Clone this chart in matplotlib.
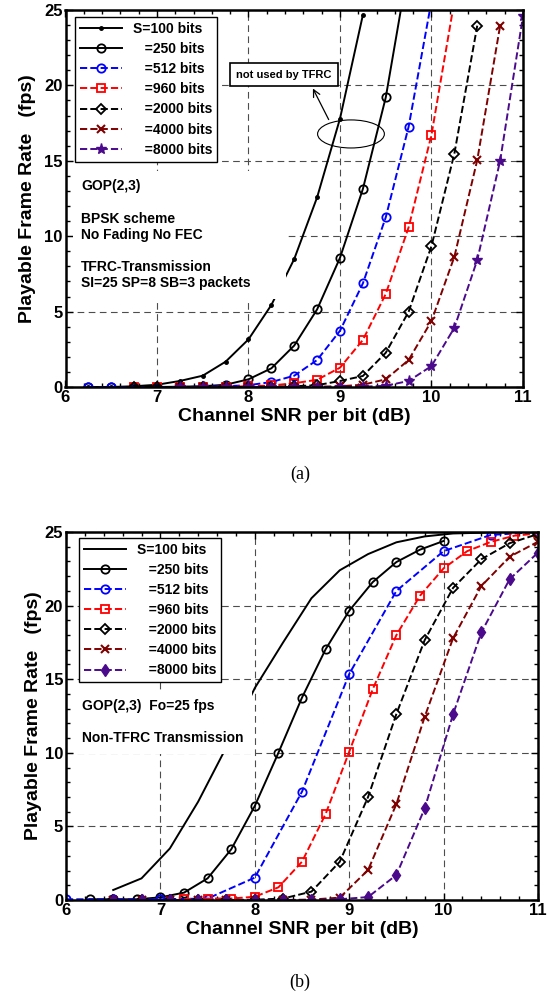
import matplotlib
matplotlib.use("Agg")
import matplotlib.pyplot as plt
from matplotlib.patches import Ellipse
from matplotlib.ticker import MultipleLocator

plt.rcParams['font.family'] = ['Liberation Sans', 'DejaVu Sans']
plt.rcParams['font.weight'] = 'bold'

# ---- (a) TFRC transmission ----
a_x100 = [6.25, 6.5, 6.75, 7.0, 7.25, 7.5, 7.75, 8.0, 8.25, 8.5, 8.75, 9.0, 9.25]
a_y100 = [0, 0, 0.05, 0.15, 0.4, 0.75, 1.68, 3.16, 5.44, 8.49, 12.58, 17.8, 24.67]
a_x250 = [6.25, 6.5, 6.75, 7.0, 7.25, 7.5, 7.75, 8.0, 8.25, 8.5, 8.75, 9.0, 9.25, 9.5, 9.75]
a_y250 = [0, 0, 0, 0, 0.02, 0.05, 0.15, 0.51, 1.24, 2.75, 5.15, 8.57, 13.13, 19.2, 28.0]
a_x512 = [6.25, 6.5, 6.75, 7.0, 7.25, 7.5, 7.75, 8.0, 8.25, 8.5, 8.75, 9.0, 9.25, 9.5, 9.75, 10.0]
a_y512 = [0, 0, 0, 0, 0, 0.02, 0.05, 0.12, 0.33, 0.75, 1.79, 3.73, 6.87, 11.25, 17.26, 25.6]
a_x960 = [6.75, 7.0, 7.25, 7.5, 7.75, 8.0, 8.25, 8.5, 8.75, 9.0, 9.25, 9.5, 9.75, 10.0, 10.25]
a_y960 = [0, 0, 0, 0, 0.02, 0.05, 0.1, 0.25, 0.48, 1.28, 3.12, 6.17, 10.59, 16.73, 25.6]
a_x2000 = [6.75, 7.0, 7.25, 7.5, 7.75, 8.0, 8.25, 8.5, 8.75, 9.0, 9.25, 9.5, 9.75, 10.0, 10.25, 10.5]
a_y2000 = [0, 0, 0, 0, 0, 0, 0.02, 0.05, 0.12, 0.4, 0.73, 2.27, 4.99, 9.35, 15.48, 23.96]
a_x4000 = [7.25, 7.5, 7.75, 8.0, 8.25, 8.5, 8.75, 9.0, 9.25, 9.5, 9.75, 10.0, 10.25, 10.5, 10.75]
a_y4000 = [0, 0, 0, 0, 0, 0, 0.02, 0.05, 0.15, 0.51, 1.79, 4.38, 8.64, 15.05, 23.96]
a_x8000 = [7.25, 7.5, 7.75, 8.0, 8.25, 8.5, 8.75, 9.0, 9.25, 9.5, 9.75, 10.0, 10.25, 10.5, 10.75, 11.0]
a_y8000 = [0, 0, 0, 0, 0, 0, 0, 0.01, 0.02, 0.08, 0.4, 1.39, 3.93, 8.42, 15.0, 24.6]

# ---- (b) non-TFRC transmission ----
b_x100 = [6.5, 6.8, 7.1, 7.4, 7.7, 8.0, 8.3, 8.6, 8.9, 9.2, 9.5, 9.8, 10.1, 10.4, 10.7, 11.0]
b_y100 = [0.68, 1.47, 3.5, 6.68, 10.4, 14.4, 17.5, 20.5, 22.4, 23.5, 24.3, 24.7, 24.9, 24.95, 25, 25]
b_x250 = [6.25, 6.5, 6.75, 7.0, 7.25, 7.5, 7.75, 8.0, 8.25, 8.5, 8.75, 9.0, 9.25, 9.5, 9.75, 10.0]
b_y250 = [0.05, 0.05, 0.05, 0.18, 0.5, 1.47, 3.44, 6.39, 10.0, 13.75, 17.03, 19.65, 21.6, 22.96, 23.8, 24.39]
b_x512 = [6.0, 6.5, 7.0, 7.5, 8.0, 8.5, 9.0, 9.5, 10.0, 10.5, 11.0]
b_y512 = [0.05, 0.05, 0.05, 0.1, 1.52, 7.36, 15.35, 21.0, 23.7, 24.8, 25.0]
b_x960 = [7.25, 7.5, 7.75, 8.0, 8.25, 8.5, 8.75, 9.0, 9.25, 9.5, 9.75, 10.0, 10.25, 10.5, 10.75, 11.0]
b_y960 = [0.05, 0.1, 0.1, 0.22, 0.86, 2.6, 5.84, 10.07, 14.33, 18.0, 20.67, 22.53, 23.7, 24.33, 24.75, 24.9]
b_x_s = [6.5, 6.8, 7.1, 7.4, 7.7, 8.0, 8.3, 8.6, 8.9, 9.2, 9.5, 9.8, 10.1, 10.4, 10.7, 11.0]
b_y2000 = [0, 0, 0, 0, 0, 0.02, 0.1, 0.57, 2.6, 7.0, 12.64, 17.66, 21.2, 23.15, 24.24, 24.86]
b_y4000 = [0, 0, 0, 0, 0, 0, 0, 0.03, 0.16, 2.04, 6.52, 12.45, 17.78, 21.33, 23.32, 24.34]
b_y8000 = [0, 0, 0, 0, 0, 0, 0, 0, 0.05, 0.2, 1.7, 6.23, 12.61, 18.18, 21.8, 23.6]

labels = ['S=100 bits', '   =250 bits', '   =512 bits', '   =960 bits',
          '   =2000 bits', '   =4000 bits', '   =8000 bits']

brown = '#7f0000'
purple = '#4b0a8c'
ms = 6


def style_axes(ax, ypad):
    ax.set_xlim(6, 11)
    ax.set_ylim(0, 25)
    ax.xaxis.set_major_locator(MultipleLocator(1))
    ax.xaxis.set_minor_locator(MultipleLocator(0.2))
    ax.yaxis.set_major_locator(MultipleLocator(5))
    ax.yaxis.set_minor_locator(MultipleLocator(1))
    ax.tick_params(which='both', direction='in', top=True, right=True,
                   labelsize=12, width=1)
    ax.tick_params(which='major', length=5, pad=2)
    ax.tick_params(which='minor', length=3)
    ax.grid(True, which='major', color='0.3', ls=(0, (6, 4)), lw=0.8)
    for sp in ax.spines.values():
        sp.set_linewidth(1.8)
    ax.set_xlabel('Channel SNR per bit (dB)', fontsize=14, fontweight='bold', labelpad=2)
    ax.set_ylabel('Playable Frame Rate   (fps)', fontsize=14, fontweight='bold', labelpad=ypad)


def add_legend(ax, anchor):
    leg = ax.legend(labels, loc='upper left', bbox_to_anchor=anchor, borderaxespad=0,
                    fontsize=10, handlelength=3.0, labelspacing=0.44, fancybox=False,
                    framealpha=1, edgecolor='k', borderpad=0.35)
    leg.get_frame().set_linewidth(1.0)


fig = plt.figure(figsize=(5.52, 9.96), dpi=100)
ax1 = fig.add_axes([65.5 / 552, 609 / 996, 457.5 / 552, 377 / 996])
ax2 = fig.add_axes([66 / 552, 96 / 996, 472 / 552, 368 / 996])

# (a)
ax1.plot(a_x100, a_y100, '-', color='k', lw=1.4, marker='.', ms=5)
ax1.plot(a_x250, a_y250, '-', color='k', lw=1.4, marker='o', ms=ms, mfc='none', mew=1.3)
ax1.plot(a_x512, a_y512, '--', color='b', lw=1.4, marker='o', ms=ms, mfc='none', mew=1.3)
ax1.plot(a_x960, a_y960, '--', color='r', lw=1.4, marker='s', ms=ms, mfc='none', mew=1.3)
ax1.plot(a_x2000, a_y2000, '--', color='k', lw=1.4, marker='D', ms=5, mfc='none', mew=1.3)
ax1.plot(a_x4000, a_y4000, '--', color=brown, lw=1.4, marker='x', ms=ms, mew=1.5)
ax1.plot(a_x8000, a_y8000, '--', color=purple, lw=1.4, marker='*', ms=8, mew=1)
style_axes(ax1, 6)
add_legend(ax1, (0.021, 0.981))

ax1.text(6.17, 6.4,
         'GOP(2,3)\n\nBPSK scheme\nNo Fading No FEC\n\nTFRC-Transmission\n'
         'SI=25 SP=8 SB=3 packets       ',
         fontsize=10, fontweight='bold', linespacing=1.2, va='bottom', ha='left',
         bbox=dict(boxstyle='square,pad=0.6', fc='white', ec='none'))

ax1.add_patch(Ellipse((9.12, 16.78), 0.73, 1.86, fill=False, lw=0.8, color='k'))
ax1.annotate('', xy=(8.69, 19.96), xytext=(8.89, 17.57),
             arrowprops=dict(arrowstyle='->,head_length=0.5,head_width=0.25', lw=0.9, color='k'))
ax1.text(8.39, 20.72, 'not used by TFRC', fontsize=8, fontweight='bold', ha='center',
         va='center', bbox=dict(boxstyle='square,pad=0.55', fc='white', ec='k', lw=1.2))

# (b)
ax2.plot(b_x100, b_y100, '-', color='k', lw=1.4)
ax2.plot(b_x250, b_y250, '-', color='k', lw=1.4, marker='o', ms=ms, mfc='none', mew=1.3)
ax2.plot(b_x512, b_y512, '--', color='b', lw=1.4, marker='o', ms=ms, mfc='none', mew=1.3)
ax2.plot(b_x960, b_y960, '--', color='r', lw=1.4, marker='s', ms=ms, mfc='none', mew=1.3)
ax2.plot(b_x_s, b_y2000, '--', color='k', lw=1.4, marker='D', ms=5, mfc='none', mew=1.3)
ax2.plot(b_x_s, b_y4000, '--', color=brown, lw=1.4, marker='x', ms=ms, mew=1.5)
ax2.plot(b_x_s, b_y8000, '--', color=purple, lw=1.4, marker='d', ms=6, mew=1)
style_axes(ax2, 2)
add_legend(ax2, (0.0275, 0.984))

ax2.text(6.17, 10.5, 'GOP(2,3)  Fo=25 fps\n\nNon-TFRC Transmission',
         fontsize=10, fontweight='bold', linespacing=1.2, va='bottom', ha='left',
         bbox=dict(boxstyle='square,pad=0.6', fc='white', ec='none'))

fig.text(300 / 552, 1 - 474 / 996, '(a)', family='Liberation Serif', fontweight='normal',
         fontsize=13, ha='center', va='center')
fig.text(300 / 552, 1 - 982 / 996, '(b)', family='Liberation Serif', fontweight='normal',
         fontsize=13, ha='center', va='center')

fig.savefig('out.png', dpi=100)
